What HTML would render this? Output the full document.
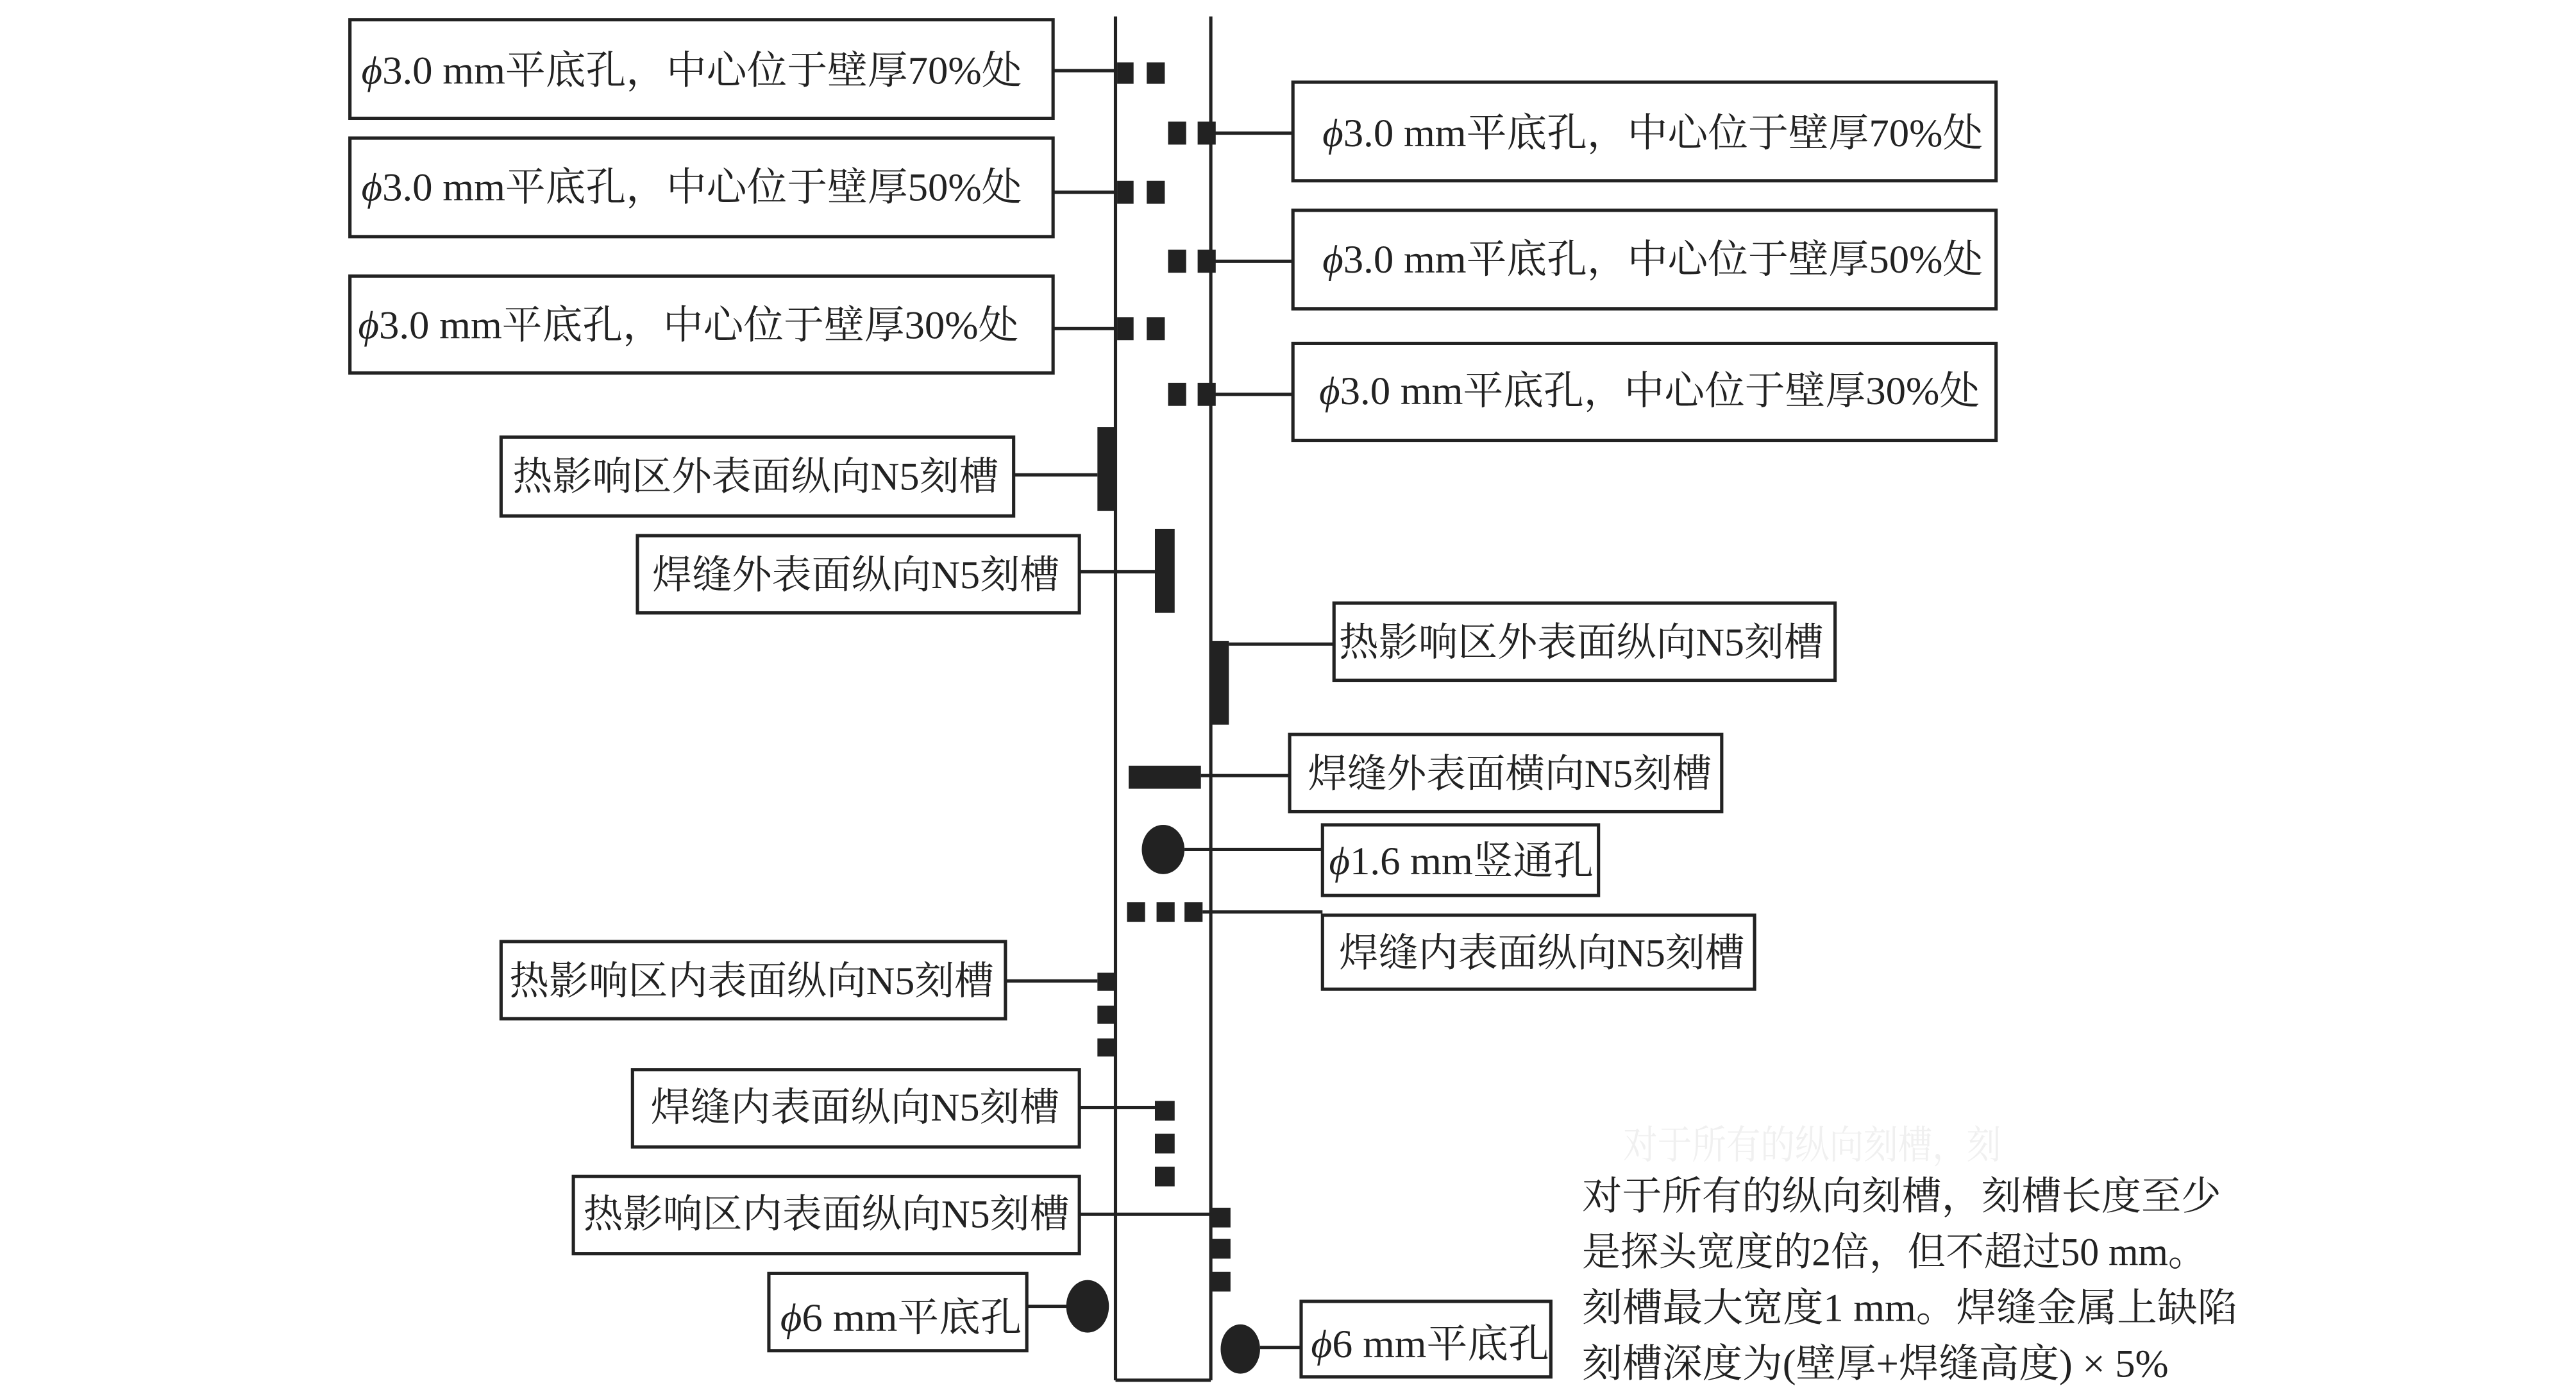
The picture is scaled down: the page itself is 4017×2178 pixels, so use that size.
<!DOCTYPE html>
<html><head><meta charset="utf-8"><style>
html,body{margin:0;padding:0;background:#fff;}
svg{display:block;}
text{font-family:"Liberation Serif","Noto Serif CJK SC",serif;fill:#222;font-size:24px;}
</style></head><body>
<svg width="4017" height="2178" viewBox="0 0 1568 850.2" preserveAspectRatio="none" xmlns="http://www.w3.org/2000/svg">
<g stroke="#222" stroke-width="2" fill="none">
<line x1="679" y1="10" x2="679" y2="840"/>
<line x1="737" y1="10" x2="737" y2="840"/>
<line x1="679" y1="840" x2="737" y2="840"/>
<rect x="213" y="12" width="428" height="60"/>
<rect x="213" y="84" width="428" height="60"/>
<rect x="213" y="168" width="428" height="59"/>
<rect x="787" y="50" width="428" height="60"/>
<rect x="787" y="128" width="428" height="60"/>
<rect x="787" y="209" width="428" height="59"/>
<rect x="305" y="266" width="312" height="48"/>
<rect x="388" y="326" width="269" height="47"/>
<rect x="812" y="367" width="305" height="47"/>
<rect x="785" y="447" width="263" height="47"/>
<rect x="805" y="502" width="168" height="43"/>
<rect x="805" y="557" width="263" height="45"/>
<rect x="305" y="573" width="307" height="47"/>
<rect x="385" y="651" width="272" height="47"/>
<rect x="349" y="716" width="308" height="47"/>
<rect x="468" y="775" width="157" height="47"/>
<rect x="792" y="792" width="152" height="46"/>
<line x1="641" y1="43" x2="680" y2="43"/>
<line x1="641" y1="117" x2="680" y2="117"/>
<line x1="641" y1="200" x2="680" y2="200"/>
<line x1="737" y1="81" x2="787" y2="81"/>
<line x1="737" y1="159" x2="787" y2="159"/>
<line x1="737" y1="240" x2="787" y2="240"/>
<line x1="617" y1="289" x2="668" y2="289"/>
<line x1="657" y1="348" x2="703" y2="348"/>
<line x1="748" y1="392" x2="812" y2="392"/>
<line x1="731" y1="472" x2="785" y2="472"/>
<line x1="721" y1="517" x2="805" y2="517"/>
<line x1="732" y1="555" x2="805" y2="555"/>
<line x1="612" y1="597" x2="668" y2="597"/>
<line x1="657" y1="674" x2="703" y2="674"/>
<line x1="657" y1="739" x2="737" y2="739"/>
<line x1="625" y1="795" x2="650" y2="795"/>
<line x1="767" y1="820" x2="792" y2="820"/>
</g>
<g fill="#222">
<rect x="680" y="38" width="10" height="13"/><rect x="698" y="38" width="11" height="13"/>
<rect x="680" y="110" width="10" height="14"/><rect x="698" y="110" width="11" height="14"/>
<rect x="680" y="193" width="10" height="14"/><rect x="698" y="193" width="11" height="14"/>
<rect x="711" y="74" width="11" height="14"/><rect x="729" y="74" width="11" height="14"/>
<rect x="711" y="152" width="11" height="14"/><rect x="729" y="152" width="11" height="14"/>
<rect x="711" y="233" width="11" height="14"/><rect x="729" y="233" width="11" height="14"/>
<rect x="668" y="260" width="11" height="51"/>
<rect x="703" y="322" width="12" height="51"/>
<rect x="737" y="390" width="11" height="51"/>
<rect x="687" y="466" width="44" height="14"/>
<ellipse cx="708" cy="517" rx="13" ry="15"/>
<rect x="686" y="549" width="11" height="12"/><rect x="704" y="549" width="11" height="12"/><rect x="721" y="549" width="11" height="12"/>
<rect x="668" y="592" width="11" height="11"/><rect x="668" y="612" width="11" height="11"/><rect x="668" y="632" width="11" height="11"/>
<rect x="703" y="670" width="12" height="12"/><rect x="703" y="690" width="12" height="12"/><rect x="703" y="710" width="12" height="12"/>
<rect x="737" y="735" width="12" height="12"/><rect x="737" y="754" width="12" height="12"/><rect x="737" y="774" width="12" height="12"/>
<ellipse cx="662" cy="795" rx="13" ry="16"/>
<ellipse cx="755" cy="821" rx="12" ry="15"/>
</g>
<text x="220" y="51" textLength="402" lengthAdjust="spacingAndGlyphs"><tspan font-style="italic">ϕ</tspan>3.0 mm平底孔，中心位于壁厚70%处</text>
<text x="220" y="122" textLength="402" lengthAdjust="spacingAndGlyphs"><tspan font-style="italic">ϕ</tspan>3.0 mm平底孔，中心位于壁厚50%处</text>
<text x="218" y="206" textLength="402" lengthAdjust="spacingAndGlyphs"><tspan font-style="italic">ϕ</tspan>3.0 mm平底孔，中心位于壁厚30%处</text>
<text x="805" y="89" textLength="402" lengthAdjust="spacingAndGlyphs"><tspan font-style="italic">ϕ</tspan>3.0 mm平底孔，中心位于壁厚70%处</text>
<text x="805" y="166" textLength="402" lengthAdjust="spacingAndGlyphs"><tspan font-style="italic">ϕ</tspan>3.0 mm平底孔，中心位于壁厚50%处</text>
<text x="803" y="246" textLength="402" lengthAdjust="spacingAndGlyphs"><tspan font-style="italic">ϕ</tspan>3.0 mm平底孔，中心位于壁厚30%处</text>
<text x="312" y="298" textLength="296" lengthAdjust="spacingAndGlyphs">热影响区外表面纵向N5刻槽</text>
<text x="397" y="358" textLength="248" lengthAdjust="spacingAndGlyphs">焊缝外表面纵向N5刻槽</text>
<text x="815" y="399" textLength="295" lengthAdjust="spacingAndGlyphs">热影响区外表面纵向N5刻槽</text>
<text x="796" y="479" textLength="246" lengthAdjust="spacingAndGlyphs">焊缝外表面横向N5刻槽</text>
<text x="809" y="532" textLength="161" lengthAdjust="spacingAndGlyphs"><tspan font-style="italic">ϕ</tspan>1.6  mm竖通孔</text>
<text x="815" y="588" textLength="247" lengthAdjust="spacingAndGlyphs">焊缝内表面纵向N5刻槽</text>
<text x="310" y="605" textLength="295" lengthAdjust="spacingAndGlyphs">热影响区内表面纵向N5刻槽</text>
<text x="396" y="682" textLength="249" lengthAdjust="spacingAndGlyphs">焊缝内表面纵向N5刻槽</text>
<text x="355" y="747" textLength="296" lengthAdjust="spacingAndGlyphs">热影响区内表面纵向N5刻槽</text>
<text x="475" y="810" textLength="147" lengthAdjust="spacingAndGlyphs"><tspan font-style="italic">ϕ</tspan>6 mm平底孔</text>
<text x="798" y="826" textLength="145" lengthAdjust="spacingAndGlyphs"><tspan font-style="italic">ϕ</tspan>6 mm平底孔</text>
<text x="988" y="705" style="fill:#f0f0f0" textLength="230" lengthAdjust="spacingAndGlyphs">对于所有的纵向刻槽，刻</text>
<text x="963" y="736" textLength="389" lengthAdjust="spacingAndGlyphs">对于所有的纵向刻槽，刻槽长度至少</text>
<text x="963" y="770" textLength="380" lengthAdjust="spacingAndGlyphs">是探头宽度的2倍，但不超过50 mm。</text>
<text x="963" y="804" textLength="399" lengthAdjust="spacingAndGlyphs">刻槽最大宽度1 mm。焊缝金属上缺陷</text>
<text x="963" y="838" textLength="357" lengthAdjust="spacingAndGlyphs">刻槽深度为(壁厚+焊缝高度) × 5%</text>
</svg>
</body></html>
